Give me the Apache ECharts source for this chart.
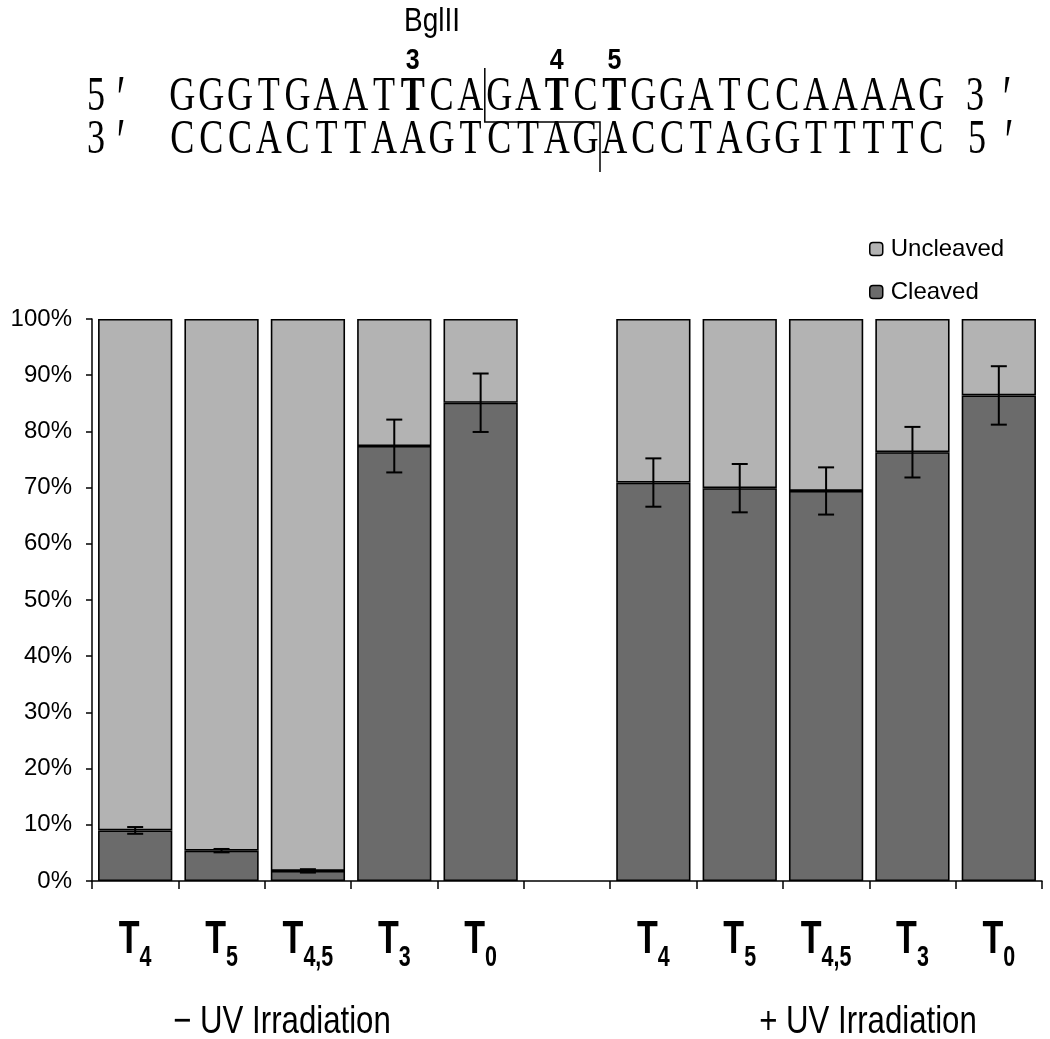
<!DOCTYPE html>
<html><head><meta charset="utf-8">
<script src="https://cdn.jsdelivr.net/npm/echarts@6/dist/echarts.min.js"></script>
<style>html,body{margin:0;padding:0;background:#fff}#c{width:1050px;height:1039px}</style>
</head><body><div id="c"></div>
<script>
// ---- data ----
const categories = ['-T4','-T5','-T45','-T3','-T0','gap','+T4','+T5','+T45','+T3','+T0'];
const subscripts = ['4','5','4,5','3','0','','4','5','4,5','3','0'];
const cleaved   = [9.0, 5.4, 1.8, 77.4, 85.1, null, 70.9, 69.9, 69.4, 76.3, 86.4];
const uncleaved = [91.0, 94.6, 98.2, 22.6, 14.9, null, 29.1, 30.1, 30.6, 23.7, 13.6];
const errors    = [0.6, 0.3, 0.3, 4.7, 5.2, null, 4.3, 4.3, 4.2, 4.5, 5.2];
const groupLabels = ['\u2212 UV Irradiation', '+ UV Irradiation'];
const topSeq = 'GGGTGAATTCAGATCTGGATCCAAAAG';
const botSeq = 'CCCACTTAAGTCTAGACCTAGGTTTTC';
const boldIdx = [8, 13, 15];
const boldNums = ['3','4','5'];

const errData = [];
cleaved.forEach((v,i)=>{ if(v!=null) errData.push([i, v, errors[i]]); });
const labelData = [];
subscripts.forEach((s,i)=>{ if(s) labelData.push([i, 0]); });

const chart = echarts.init(document.getElementById('c'));
const cw = 28.8, seqX = 168;
const serif = '"Liberation Serif", "DejaVu Serif", serif';
const sansN = '"Liberation Sans", Arial, sans-serif';
const FS = 44, SX = 0.82, SY = 1.12;
const graphics = [];
function charAt(ch, cx, y, bold){
  graphics.push({type:'text', x:cx, y:y, scaleX:SX, scaleY:SY, style:{text:ch, x:0, y:0, textAlign:'center', textVerticalAlign:'middle', font:(bold?'bold ':'')+FS+'px '+serif, fill:'#000'}});
}
function primeAt(cx, y){
  graphics.push({type:'text', x:cx, y:y, scaleX:0.9, scaleY:1.5, style:{text:'\u2032', x:0, y:0, textAlign:'center', textVerticalAlign:'top', font:'44px '+serif, fill:'#000'}});
}
function seqChars(str, y, bolds){
  for(let i=0;i<str.length;i++) charAt(str[i], seqX+(i+0.5)*cw, y, bolds.includes(i));
}
seqChars(topSeq, 97, boldIdx);
seqChars(botSeq, 140, []);
charAt('5', 96, 97); primeAt(121, 70);
charAt('3', 975, 97); primeAt(1007, 70);
charAt('3', 96, 140); primeAt(121, 113);
charAt('5', 977, 140); primeAt(1009, 113);
graphics.push({type:'text', x:432, y:22, scaleY:1.2, style:{text:'BglII', x:0,y:0, textAlign:'center', textVerticalAlign:'middle', font:'28px '+sansN, fill:'#000'}});
graphics.push({type:'polyline', shape:{points:[[seqX+11*cw,68],[seqX+11*cw,122],[seqX+15*cw,122],[seqX+15*cw,172]]}, style:{stroke:'#000', lineWidth:1.5, fill:null}});
boldIdx.forEach((idx,k)=>{
  graphics.push({type:'text', x:seqX+(idx+0.5)*cw, y:61, scaleY:1.15, style:{text:boldNums[k], x:0,y:0, textAlign:'center', textVerticalAlign:'middle', font:'bold 25px '+sansN, fill:'#000'}});
});
graphics.push({type:'text', x:282, y:1022, scaleX:0.8, style:{text:groupLabels[0], x:0,y:0, textAlign:'center', textVerticalAlign:'middle', font:'39px '+sansN, fill:'#000'}});
graphics.push({type:'text', x:868, y:1022, scaleX:0.8, style:{text:groupLabels[1], x:0,y:0, textAlign:'center', textVerticalAlign:'middle', font:'39px '+sansN, fill:'#000'}});

const mctx = document.createElement('canvas').getContext('2d');
function measure(t, font){ mctx.font = font; return mctx.measureText(t).width; }
const TF = 'bold 46px '+sansN, SF = 'bold 29px '+sansN, LSX = 0.74;

chart.setOption({
  animation:false,
  backgroundColor:'#fff',
  grid:{left:92, right:8, top:319, bottom:158, containLabel:false},
  legend:{
    orient:'vertical', left:864, top:232, itemWidth:13, itemHeight:13, itemGap:19,
    data:['Uncleaved','Cleaved'],
    textStyle:{fontSize:24, fontFamily:sansN, color:'#000', padding:[0,0,0,3]},
    itemStyle:{borderColor:'#000', borderWidth:1.5}
  },
  xAxis:{
    type:'category', data:categories, boundaryGap:true,
    axisLine:{lineStyle:{color:'#000', width:1.5}},
    axisTick:{show:true, length:8, lineStyle:{color:'#000', width:1.5}, interval:0},
    axisLabel:{show:false}
  },
  yAxis:{
    type:'value', min:0, max:100, interval:10,
    axisLine:{show:true, lineStyle:{color:'#000', width:1.5}},
    axisTick:{show:true, length:6, lineStyle:{color:'#000', width:1.5}},
    splitLine:{show:false},
    axisLabel:{formatter:'{value}%', fontSize:24, color:'#000', fontFamily:sansN, margin:20}
  },
  series:[
    {name:'Cleaved', type:'bar', stack:'a', data:cleaved, barWidth:'86%',
     itemStyle:{color:'#6b6b6b', borderColor:'#000', borderWidth:1.6}},
    {name:'Uncleaved', type:'bar', stack:'a', data:uncleaved, barWidth:'86%',
     itemStyle:{color:'#b3b3b3', borderColor:'#000', borderWidth:1.6}},
    {name:'err', type:'custom', data:errData, z:10,
     encode:{x:0, y:1},
     renderItem:(params, api)=>{
       const i = api.value(0), v = api.value(1), e = api.value(2);
       const top = api.coord([i, v+e]), bot = api.coord([i, v-e]);
       const x = top[0], hw = 8;
       return {type:'group', children:[
         {type:'line', shape:{x1:x, y1:top[1], x2:x, y2:bot[1]}, style:{stroke:'#000', lineWidth:2}},
         {type:'line', shape:{x1:x-hw, y1:top[1], x2:x+hw, y2:top[1]}, style:{stroke:'#000', lineWidth:2}},
         {type:'line', shape:{x1:x-hw, y1:bot[1], x2:x+hw, y2:bot[1]}, style:{stroke:'#000', lineWidth:2}}
       ]};
     }},
    {name:'labels', type:'custom', data:labelData, z:10, clip:false,
     encode:{x:0, y:1},
     renderItem:(params, api)=>{
       const i = api.value(0);
       const p = api.coord([i, 0]);
       const sub = subscripts[i];
       const wT = measure('T', TF)*LSX, wS = measure(sub, SF)*LSX;
       const x0 = p[0] - (wT + wS)/2;
       const base = p[1] + 82;
       return {type:'group', children:[
         {type:'text', x:x0, y:base, scaleX:LSX, style:{text:'T', x:0, y:0, textAlign:'left', textVerticalAlign:'bottom', font:TF, fill:'#000'}},
         {type:'text', x:x0+wT, y:base+9, scaleX:LSX, style:{text:sub, x:0, y:0, textAlign:'left', textVerticalAlign:'bottom', font:SF, fill:'#000'}}
       ]};
     }}
  ],
  graphic:graphics
});
</script></body></html>
